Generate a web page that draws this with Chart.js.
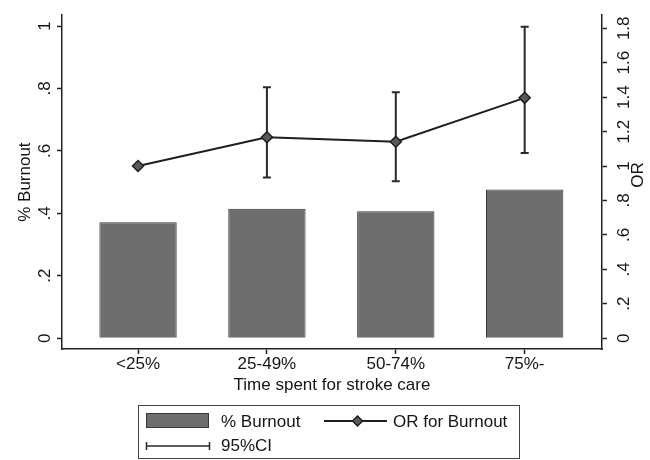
<!DOCTYPE html>
<html>
<head>
<meta charset="utf-8">
<script src="https://cdn.jsdelivr.net/npm/chart.js@4"></script>
<style>
	html, body { margin: 0; padding: 0; background: #fff; }
	canvas { display: block; }
</style>
</head>
<body>
<canvas id="myChart" width="650" height="460"></canvas>
<script>
const categories = ['<25%', '25-49%', '50-74%', '75%-'];
const burnout = [0.371, 0.415, 0.407, 0.476];
const orValues = [1.0, 1.167, 1.141, 1.396];
const ciLow = [null, 0.933, 0.912, 1.076];
const ciHigh = [null, 1.457, 1.429, 1.809];
const leftTicks = [0, 0.2, 0.4, 0.6, 0.8, 1];
const rightTicks = [0, 0.2, 0.4, 0.6, 0.8, 1, 1.2, 1.4, 1.6, 1.8];

const FONT = '"Liberation Sans", Arial, sans-serif';
const ink = '#151515';
const barFill = '#6e6e6e';
const barEdge = '#383838';

Chart.defaults.font.family = FONT;
Chart.defaults.font.size = 17;
Chart.defaults.color = ink;

// stata style numbers: .2 .4 1 1.2
const fmt = (v) => String(Number(v.toFixed(1))).replace(/^0\./, '.');

const setTicks = (vals) => (scale) => {
	scale.ticks = vals.map((v) => ({ value: v }));
};

const errorBars = {
	id: 'errorBars',
	afterDatasetDraw(chart, args) {
		if (args.index !== 0) return;
		const ctx = chart.ctx;
		const x = chart.scales.x;
		const y1 = chart.scales.y1;
		ctx.save();
		ctx.strokeStyle = '#2a2a2a';
		ctx.lineWidth = 2;
		ciLow.forEach((lo, i) => {
			if (lo === null) return;
			const px = x.getPixelForValue(i + 1);
			const top = y1.getPixelForValue(ciHigh[i]);
			const bot = y1.getPixelForValue(lo);
			ctx.beginPath();
			ctx.moveTo(px, top);
			ctx.lineTo(px, bot);
			ctx.moveTo(px - 4, top);
			ctx.lineTo(px + 4, top);
			ctx.moveTo(px - 4, bot);
			ctx.lineTo(px + 4, bot);
			ctx.stroke();
		});
		ctx.restore();
	},
};

const extras = {
	id: 'extras',
	afterDraw(chart) {
		const ctx = chart.ctx;
		ctx.save();
		ctx.fillStyle = ink;
		ctx.font = '17px ' + FONT;
		ctx.textBaseline = 'middle';

		// right axis title, reads bottom to top
		ctx.save();
		ctx.translate(638, 175);
		ctx.rotate(-Math.PI / 2);
		ctx.textAlign = 'center';
		ctx.fillText('OR', 0, 0);
		ctx.restore();

		// legend box
		ctx.strokeStyle = '#444';
		ctx.lineWidth = 1;
		ctx.strokeRect(138.5, 405.5, 381, 53);

		// % Burnout
		ctx.fillStyle = barFill;
		ctx.fillRect(146, 413, 63, 15);
		ctx.strokeStyle = barEdge;
		ctx.strokeRect(146.5, 413.5, 62, 14);
		ctx.fillStyle = ink;
		ctx.textAlign = 'left';
		ctx.fillText('% Burnout', 221, 422);

		// OR for Burnout
		ctx.strokeStyle = '#1e1e1e';
		ctx.lineWidth = 2;
		ctx.beginPath();
		ctx.moveTo(324, 421);
		ctx.lineTo(387, 421);
		ctx.stroke();
		ctx.beginPath();
		ctx.moveTo(357.5, 416);
		ctx.lineTo(362.5, 421);
		ctx.lineTo(357.5, 426);
		ctx.lineTo(352.5, 421);
		ctx.closePath();
		ctx.fillStyle = '#5a5a5a';
		ctx.fill();
		ctx.lineWidth = 1.5;
		ctx.stroke();
		ctx.fillStyle = ink;
		ctx.fillText('OR for Burnout', 393, 422);

		// 95%CI
		ctx.strokeStyle = '#2a2a2a';
		ctx.lineWidth = 1.5;
		ctx.beginPath();
		ctx.moveTo(146, 446);
		ctx.lineTo(210, 446);
		ctx.moveTo(146.5, 442);
		ctx.lineTo(146.5, 450);
		ctx.moveTo(209.5, 442);
		ctx.lineTo(209.5, 450);
		ctx.stroke();
		ctx.fillText('95%CI', 221, 446);
		ctx.restore();
	},
};

const config = {
	type: 'bar',
	data: {
		datasets: [
			{
				type: 'bar',
				label: '% Burnout',
				data: burnout.map((v, i) => ({ x: i + 1, y: v })),
				backgroundColor: barFill,
				borderColor: barEdge,
				borderWidth: 1,
				barPercentage: 0.6,
				categoryPercentage: 1,
				yAxisID: 'y',
				order: 1,
			},
			{
				type: 'line',
				label: 'OR for Burnout',
				data: orValues.map((v, i) => ({ x: i + 1, y: v })),
				borderColor: '#1e1e1e',
				borderWidth: 2,
				tension: 0,
				pointStyle: 'rectRot',
				pointRadius: 5.5,
				pointBackgroundColor: '#5a5a5a',
				pointBorderColor: '#1e1e1e',
				pointBorderWidth: 1.5,
				yAxisID: 'y1',
				order: 0,
			},
		],
	},
	options: {
		responsive: false,
		animation: false,
		devicePixelRatio: 1,
		layout: { padding: { top: 10, left: 0, right: 0, bottom: 61 } },
		plugins: { legend: { display: false }, tooltip: { enabled: false } },
		scales: {
			x: {
				type: 'linear',
				offset: false,
				min: 0.41,
				max: 4.6,
				afterBuildTicks: setTicks([1, 2, 3, 4]),
				afterFit: (s) => { s.height = 50; },
				ticks: {
					autoSkip: false,
					maxRotation: 0,
					padding: 0,
					callback: (v, i) => categories[i],
				},
				grid: { offset: false, drawOnChartArea: false, tickLength: 5, color: '#222', tickWidth: 1.5 },
				border: { color: '#222', width: 1.5 },
				title: {
					display: true,
					text: 'Time spent for stroke care',
					padding: { top: 0, bottom: 3 },
				},
			},
			y: {
				position: 'left',
				min: -0.0347,
				max: 1.0347,
				afterBuildTicks: setTicks(leftTicks),
				afterFit: (s) => { s.width = 62; },
				ticks: {
					minRotation: 90,
					maxRotation: 90,
					crossAlign: 'center',
					padding: 5,
					callback: (v) => fmt(v),
				},
				grid: { drawOnChartArea: false, tickLength: 5, color: '#222', tickWidth: 1.5 },
				border: { color: '#222', width: 1.5 },
				title: {
					display: true,
					text: '% Burnout',
					padding: { top: 15, bottom: 0 },
				},
			},
			y1: {
				position: 'right',
				min: -0.063,
				max: 1.876,
				afterBuildTicks: setTicks(rightTicks),
				afterFit: (s) => { s.width = 48; },
				ticks: {
					minRotation: 90,
					maxRotation: 90,
					crossAlign: 'center',
					padding: 5,
					callback: (v) => fmt(v),
				},
				grid: { drawOnChartArea: false, tickLength: 5, color: '#222', tickWidth: 1.5 },
				border: { color: '#222', width: 1.5 },
			},
		},
	},
	plugins: [errorBars, extras],
};

const myChart = new Chart(document.getElementById('myChart'), config);
</script>
</body>
</html>
